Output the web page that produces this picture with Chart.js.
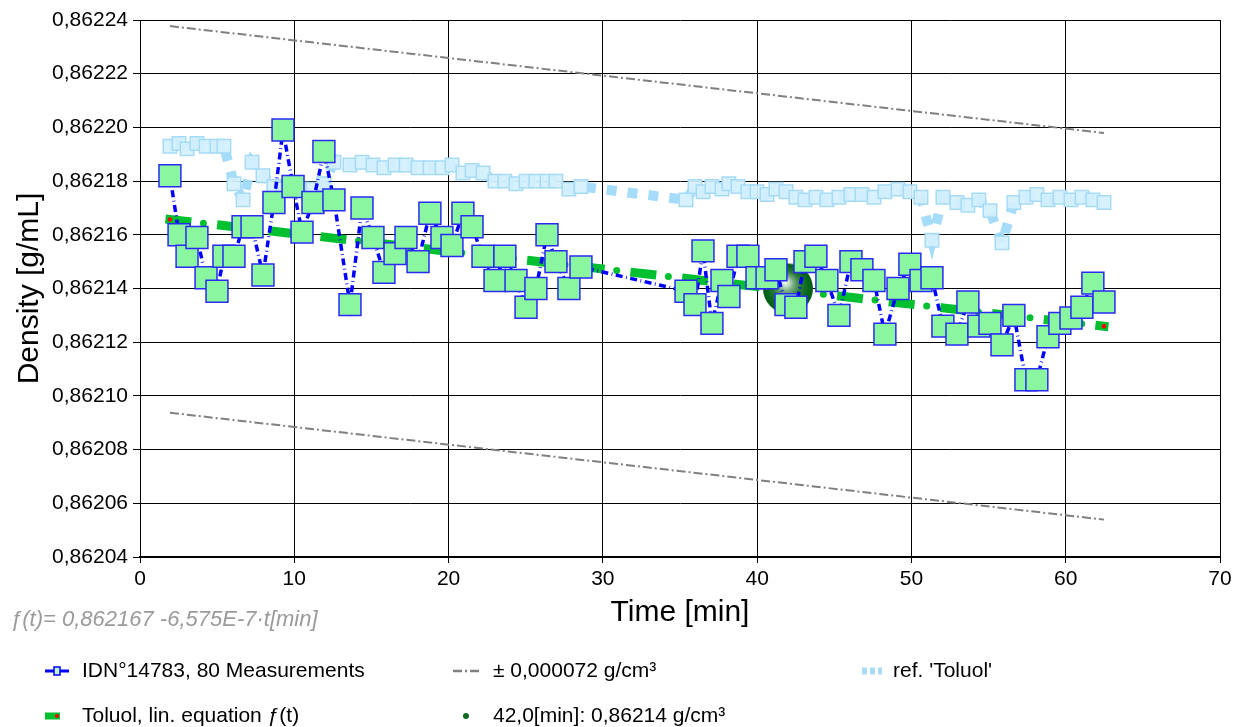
<!DOCTYPE html>
<html>
<head>
<meta charset="utf-8">
<title>Density vs. time</title>
<script src="https://cdn.jsdelivr.net/npm/chart.js@4.4.1/dist/chart.umd.min.js"></script>
<style>
  html, body { margin: 0; padding: 0; background: #ffffff; }
  #wrap { width: 1236px; height: 727px; }
</style>
</head>
<body>
<div id="wrap"><canvas id="densityChart" width="1236" height="727"></canvas></div>
<script>
// ---- data ---------------------------------------------------------------
// measurement times [min]
const timeMin = [
  1.94, 2.53, 3.05, 3.69, 4.28, 4.99, 5.44, 6.09, 6.68, 7.26,
  7.97, 8.68, 9.27, 9.92, 10.50, 11.21, 11.92, 12.57, 13.61, 14.39,
  15.10, 15.81, 16.53, 17.24, 18.02, 18.79, 19.57, 20.22, 20.93, 21.52,
  22.23, 23.01, 23.65, 24.37, 25.02, 25.66, 26.38, 26.96, 27.80, 28.58,
  35.39, 35.97, 36.49, 37.07, 37.72, 38.17, 38.76, 39.40, 39.99, 40.64,
  41.22, 41.87, 42.51, 43.10, 43.81, 44.52, 45.30, 46.08, 46.79, 47.57,
  48.28, 49.13, 49.90, 50.62, 51.33, 52.04, 52.95, 53.66, 54.37, 55.09,
  55.87, 56.64, 57.42, 58.13, 58.85, 59.62, 60.34, 61.05, 61.76, 62.48
];

// measured density [g/mL], IDN°14783
const densityMeasured = [
  0.862182, 0.862160, 0.862152, 0.862159, 0.862144, 0.862139, 0.862152, 0.862152, 0.862163, 0.862163,
  0.862145, 0.862172, 0.862199, 0.862178, 0.862161, 0.862172, 0.862191, 0.862173, 0.862134, 0.862170,
  0.862159, 0.862146, 0.862153, 0.862159, 0.862150, 0.862168, 0.862159, 0.862156, 0.862168, 0.862163,
  0.862152, 0.862143, 0.862152, 0.862143, 0.862133, 0.862140, 0.862160, 0.862150, 0.862140, 0.862148,
  0.862139, 0.862134, 0.862154, 0.862127, 0.862143, 0.862137, 0.862152, 0.862152, 0.862144, 0.862144,
  0.862147, 0.862134, 0.862133, 0.862150, 0.862152, 0.862143, 0.862130, 0.862150, 0.862147, 0.862143,
  0.862123, 0.862140, 0.862149, 0.862143, 0.862144, 0.862126, 0.862123, 0.862135, 0.862126, 0.862127,
  0.862119, 0.862130, 0.862106, 0.862106, 0.862122, 0.862127, 0.862129, 0.862133, 0.862142, 0.862135
];

// reference curve 'Toluol' [g/mL]
const densityReference = [
  0.862193, 0.862194, 0.862192, 0.862194, 0.862193, 0.862193, 0.862193, 0.862179, 0.862173, 0.862187,
  0.862182, 0.862178, 0.862177, 0.862177, 0.862177, 0.862177, 0.862179, 0.862187, 0.862186, 0.862187,
  0.862186, 0.862185, 0.862186, 0.862186, 0.862185, 0.862185, 0.862185, 0.862186, 0.862183, 0.862184,
  0.862183, 0.862180, 0.862180, 0.862179, 0.862180, 0.862180, 0.862180, 0.862180, 0.862177, 0.862178,
  0.862173, 0.862178, 0.862176, 0.862178, 0.862177, 0.862179, 0.862178, 0.862176, 0.862176, 0.862175,
  0.862177, 0.862176, 0.862174, 0.862173, 0.862174, 0.862173, 0.862174, 0.862175, 0.862175, 0.862174,
  0.862176, 0.862177, 0.862176, 0.862174, 0.862158, 0.862174, 0.862172, 0.862171, 0.862173, 0.862169,
  0.862157, 0.862172, 0.862174, 0.862175, 0.862173, 0.862174, 0.862173, 0.862174, 0.862173, 0.862172
];

// linear fit f(t) = intercept + slope * t, and the tolerance band around it
const fitIntercept = 0.862167;
const fitSlope = -6.575e-7;
const tolerance = 0.000072;

// highlighted value
const markedTime = 42.0;
const markedDensity = 0.86214;

// axis ticks
const xTickValues = [0, 10, 20, 30, 40, 50, 60, 70];
const yTickValues = [0.86204, 0.86206, 0.86208, 0.86210, 0.86212, 0.86214, 0.86216, 0.86218, 0.86220, 0.86222, 0.86224];

// texts
const formulaText = 'ƒ(t)= 0,862167 -6,575E-7·t[min]';
const legendTexts = [
  'IDN°14783, 80 Measurements',
  '± 0,000072 g/cm³',
  "ref. 'Toluol'",
  'Toluol, lin. equation ƒ(t)',
  '42,0[min]: 0,86214 g/cm³'
];

// ---- derived point lists ------------------------------------------------
const fitAt = t => fitIntercept + fitSlope * t;
const tFirst = timeMin[0];
const tLast = timeMin[timeMin.length - 1];

const measuredPoints = timeMin.map((t, i) => ({ x: t, y: densityMeasured[i] }));
const referencePoints = timeMin.map((t, i) => ({ x: t, y: densityReference[i] }));
const fitPoints = [{ x: tFirst, y: fitAt(tFirst) }, { x: tLast, y: fitAt(tLast) }];
const upperPoints = fitPoints.map(p => ({ x: p.x, y: p.y + tolerance }));
const lowerPoints = fitPoints.map(p => ({ x: p.x, y: p.y - tolerance }));

const FONT = "'Liberation Sans', Arial, sans-serif";
const GREEN = '#00c030';

// shaded sphere used as marker of the highlighted value
function makeSphere(r) {
  const c = document.createElement('canvas');
  c.width = c.height = 2 * r + 2;
  const g = c.getContext('2d');
  const cx = r + 1, cy = r + 1;
  const grad = g.createRadialGradient(cx - 3, cy - 7, 0, cx, cy, r);
  grad.addColorStop(0, '#ffffff');
  grad.addColorStop(0.12, '#d2e6d2');
  grad.addColorStop(0.3, '#7aad84');
  grad.addColorStop(0.55, '#2a7c38');
  grad.addColorStop(0.8, '#0b6a1f');
  grad.addColorStop(1, '#005c15');
  g.fillStyle = grad;
  g.beginPath();
  g.arc(cx, cy, r, 0, Math.PI * 2);
  g.fill();
  return c;
}

// formula and legend below the axes
const bottomNotes = {
  id: 'bottomNotes',
  afterDraw(chart) {
    const ctx = chart.ctx;
    ctx.save();
    ctx.textBaseline = 'middle';
    ctx.textAlign = 'left';

    ctx.font = 'italic 22px ' + FONT;
    ctx.fillStyle = '#9a9a9a';
    ctx.fillText(formulaText, 10, 620);

    ctx.font = '21px ' + FONT;
    ctx.fillStyle = '#000000';
    const row1 = 671, row2 = 716;

    // measurements
    ctx.strokeStyle = '#0000ff';
    ctx.lineWidth = 3;
    ctx.beginPath(); ctx.moveTo(45, row1); ctx.lineTo(69, row1); ctx.stroke();
    ctx.fillStyle = '#bff5c8';
    ctx.lineWidth = 1.5;
    ctx.fillRect(54, row1 - 4, 6, 8);
    ctx.strokeRect(54, row1 - 4, 6, 8);
    ctx.fillStyle = '#000000';
    ctx.fillText(legendTexts[0], 82, row1);

    // tolerance band
    ctx.strokeStyle = '#808080';
    ctx.lineWidth = 2.5;
    ctx.setLineDash([9, 3, 2, 3]);
    ctx.beginPath(); ctx.moveTo(453, row1); ctx.lineTo(479, row1); ctx.stroke();
    ctx.setLineDash([]);
    ctx.fillText(legendTexts[1], 493, row1);

    // reference
    ctx.strokeStyle = '#a8dcf8';
    ctx.lineWidth = 7;
    ctx.setLineDash([5, 3]);
    ctx.beginPath(); ctx.moveTo(862, row1); ctx.lineTo(882, row1); ctx.stroke();
    ctx.setLineDash([]);
    ctx.fillText(legendTexts[2], 893, row1);

    // linear equation
    ctx.strokeStyle = GREEN;
    ctx.lineWidth = 7;
    ctx.beginPath(); ctx.moveTo(45, row2); ctx.lineTo(60, row2); ctx.stroke();
    ctx.fillStyle = '#ff0000';
    ctx.beginPath(); ctx.arc(57, row2, 2, 0, Math.PI * 2); ctx.fill();
    ctx.fillStyle = '#000000';
    ctx.fillText(legendTexts[3], 82, row2);

    // highlighted value
    ctx.fillStyle = '#0a6a1e';
    ctx.beginPath(); ctx.arc(466, row2, 3, 0, Math.PI * 2); ctx.fill();
    ctx.fillStyle = '#000000';
    ctx.fillText(legendTexts[4], 493, row2);

    ctx.restore();
  }
};

new Chart(document.getElementById('densityChart'), {
  type: 'line',
  data: {
    datasets: [
      {
        label: legendTexts[0],
        data: measuredPoints,
        order: 0,
        borderColor: '#0000ff',
        borderWidth: 3.5,
        borderDash: [7, 3.5, 0.8, 3.5],
        pointStyle: 'rect',
        pointRadius: 15.5,
        pointBackgroundColor: '#8af7a0',
        pointBorderColor: '#2a2af2',
        pointBorderWidth: 1.5,
        tension: 0
      },
      {
        label: legendTexts[4],
        data: [{ x: markedTime, y: markedDensity }],
        order: 1,
        showLine: false,
        pointStyle: makeSphere(25),
        pointRadius: 25
      },
      {
        label: 'fit dots',
        data: fitPoints,
        order: 2,
        borderColor: GREEN,
        borderWidth: 7,
        borderCapStyle: 'round',
        borderDash: [0, 52],
        borderDashOffset: 18.3,
        pointRadius: 0
      },
      {
        label: legendTexts[3],
        data: fitPoints,
        order: 3,
        borderColor: GREEN,
        borderWidth: 9,
        borderCapStyle: 'square',
        borderDash: [17, 35],
        pointRadius: 2.2,
        pointBackgroundColor: '#ff0000',
        pointBorderWidth: 0
      },
      {
        label: legendTexts[2],
        data: referencePoints,
        order: 4,
        borderColor: 'rgba(160,218,250,0.95)',
        borderWidth: 10,
        borderCapStyle: 'butt',
        borderDash: [10, 11],
        pointStyle: 'rect',
        pointRadius: 9.5,
        pointBackgroundColor: 'rgba(212,240,253,0.92)',
        pointBorderColor: '#a6dbf7',
        pointBorderWidth: 1.5,
        tension: 0
      },
      {
        label: legendTexts[1],
        data: upperPoints,
        order: 5,
        borderColor: '#808080',
        borderWidth: 2,
        borderDash: [9, 3, 2, 3],
        pointRadius: 0
      },
      {
        label: legendTexts[1] + ' (lower)',
        data: lowerPoints,
        order: 5,
        borderColor: '#808080',
        borderWidth: 2,
        borderDash: [9, 3, 2, 3],
        pointRadius: 0
      }
    ]
  },
  options: {
    responsive: false,
    animation: false,
    events: [],
    layout: { autoPadding: false, padding: { left: 0, top: 20, right: 16, bottom: 95 } },
    plugins: { legend: { display: false }, tooltip: { enabled: false } },
    scales: {
      x: {
        type: 'linear',
        min: 0,
        max: 70,
        afterBuildTicks: s => { s.ticks = xTickValues.map(v => ({ value: v })); },
        afterFit: s => { s.height = 75; s.paddingLeft = 0; s.paddingRight = 0; },
        ticks: {
          autoSkip: false,
          maxRotation: 0,
          padding: 4,
          color: '#000000',
          font: { family: FONT, size: 21 },
          callback: v => String(v)
        },
        grid: { color: '#000000', lineWidth: 1, tickLength: 6, tickColor: '#000000' },
        border: { color: '#000000', width: 2 },
        title: {
          display: true,
          text: 'Time [min]',
          color: '#000000',
          font: { family: FONT, size: 30 },
          padding: { top: 0, bottom: 1 }
        }
      },
      y: {
        type: 'linear',
        min: 0.86204,
        max: 0.86224,
        afterBuildTicks: s => { s.ticks = yTickValues.map(v => ({ value: v })); },
        afterFit: s => { s.width = 140; s.paddingTop = 0; s.paddingBottom = 0; },
        ticks: {
          autoSkip: false,
          padding: 5,
          color: '#000000',
          font: { family: FONT, size: 21 },
          callback: v => v.toFixed(5).replace('.', ',')
        },
        grid: { color: '#000000', lineWidth: 1, tickLength: 7, tickColor: '#000000' },
        border: { color: '#000000', width: 1 },
        title: {
          display: true,
          text: 'Density [g/mL]',
          color: '#000000',
          font: { family: FONT, size: 30 },
          padding: { top: 12, bottom: 0 }
        }
      }
    }
  },
  plugins: [bottomNotes]
});
</script>
</body>
</html>
